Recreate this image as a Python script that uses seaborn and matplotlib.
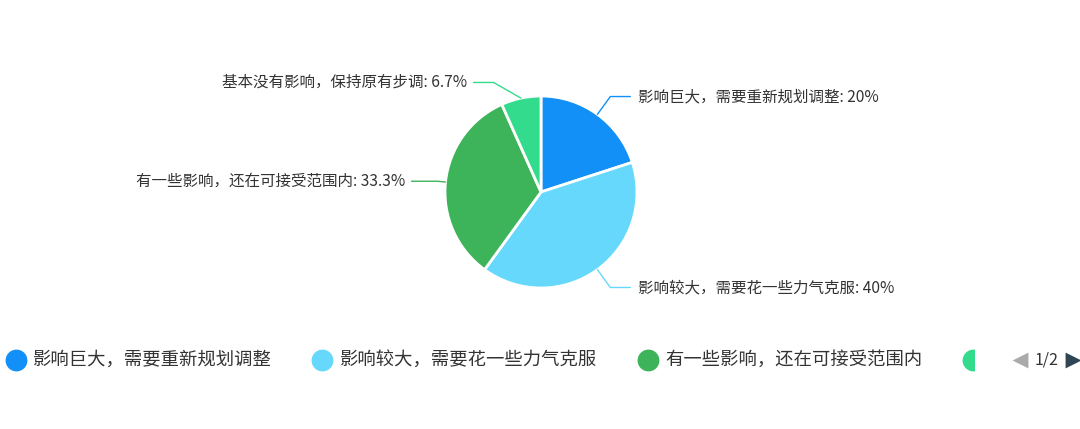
import numpy as np
import matplotlib
matplotlib.use('Agg')
import matplotlib.pyplot as plt
import seaborn as sns
from matplotlib.patches import Rectangle

# 数据
labels = ['影响巨大，需要重新规划调整', '影响较大，需要花一些力气克服',
          '有一些影响，还在可接受范围内', '基本没有影响，保持原有步调']
pct_text = ['20%', '40%', '33.3%', '6.7%']
values = [20, 40, 33.3, 6.7]
colors = ['#1390f7', '#66d8fc', '#3db45a', '#33dc8c']

sns.set_theme(style='white')
plt.rcParams['font.family'] = ['Noto Sans CJK SC', 'DejaVu Sans']

W, H = 1080, 429
fig = plt.figure(figsize=(W / 100, H / 100), dpi=100)
ax = fig.add_axes([0, 0, 1, 1])
ax.set_xlim(0, W)
ax.set_ylim(0, H)
ax.set_aspect('equal')
ax.axis('off')

cx, cy, r = 541, H - 192, 96
wedges, _ = ax.pie(values, colors=colors, startangle=90, counterclock=False,
                   center=(cx, cy), radius=r, frame=True,
                   wedgeprops=dict(edgecolor='white', linewidth=2))
ax.set_xlim(0, W)
ax.set_ylim(0, H)
ax.axis('off')

# 引导线 + 标签
seg2 = [20, 20, 26, 20]
for w, lab, p, c, s2 in zip(wedges, labels, pct_text, colors, seg2):
    ang = np.deg2rad((w.theta1 + w.theta2) / 2)
    ex, ey = cx + r * np.cos(ang), cy + r * np.sin(ang)
    if np.cos(ang) >= 0:
        bx, by = cx + 118 * np.cos(ang), cy + 118 * np.sin(ang)
        hx = bx + s2
        ax.plot([ex, bx, hx], [ey, by, by], color=c, lw=1)
        ax.text(hx + 8, by, f'{lab}: {p}', ha='left', va='center',
                fontsize=11.2, color='#333333')
    else:
        rr = 104 if abs(np.sin(ang)) < 0.3 else 112
        bx, by = cx + rr * np.cos(ang), cy + rr * np.sin(ang)
        if abs(np.sin(ang)) > 0.9:
            bx = bx - 24
        hx = bx - s2
        ax.plot([ex, bx, hx], [ey, by, by], color=c, lw=1)
        ax.text(hx - 6, by, f'{lab}: {p}', ha='right', va='center',
                fontsize=11.2, color='#333333')

# 图例（滚动式，只显示前三项）
fig.canvas.draw()
renderer = fig.canvas.get_renderer()
ly = H - 360
x = 5
for i, (lab, c) in enumerate(zip(labels, colors)):
    circ = ax.scatter([x + 10.5], [ly], s=21 ** 2 * 0.56, color=c, marker='o',
                      linewidths=0, zorder=3)
    if i == 3:
        circ.set_clip_path(Rectangle((0, 0), 974, H, transform=ax.transData))
        break
    t = ax.text(x + 28, ly, lab, ha='left', va='center', fontsize=13.2,
                color='#333333')
    bb = t.get_window_extent(renderer)
    x = bb.x1 + 40

ax.scatter([1020], [ly], marker='<', s=130, color='#aaaaaa', linewidths=0)
ax.text(1047, ly, '1/2', ha='center', va='center', fontsize=11.5, color='#333333')
ax.scatter([1073], [ly], marker='>', s=130, color='#2f4554', linewidths=0)

fig.savefig('out.png', dpi=100, facecolor='white')
